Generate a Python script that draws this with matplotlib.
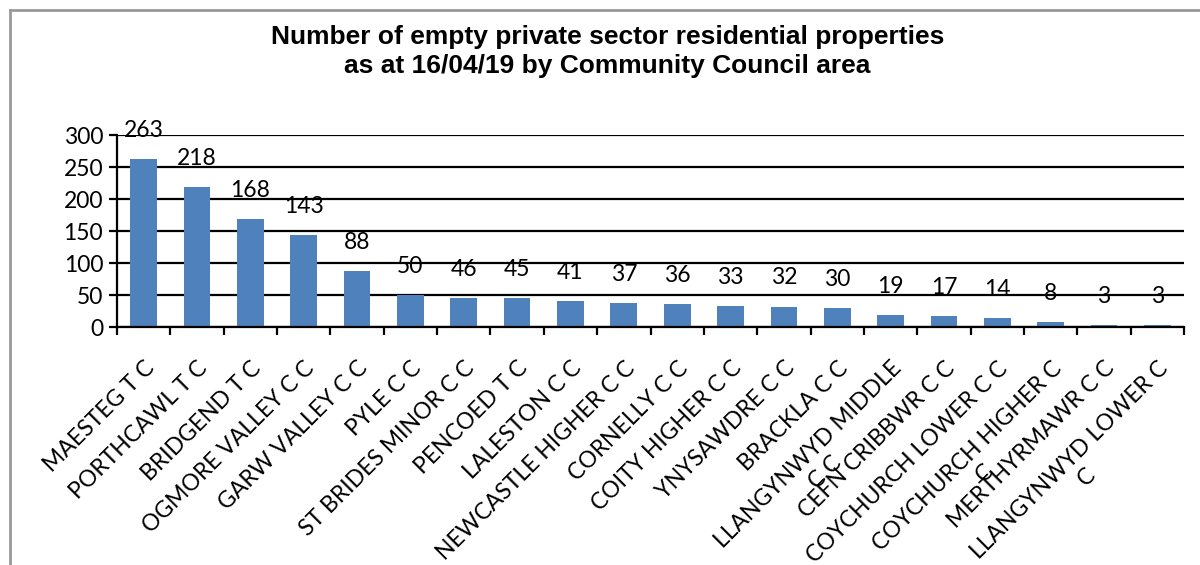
import numpy as np
import matplotlib
matplotlib.use('Agg')
import matplotlib.pyplot as plt
from matplotlib.lines import Line2D

# Datos del gráfico
areas = ['MAESTEG T C', 'PORTHCAWL T C', 'BRIDGEND T C', 'OGMORE VALLEY C C',
         'GARW VALLEY C C', 'PYLE C C', 'ST BRIDES MINOR C C', 'PENCOED T C',
         'LALESTON C C', 'NEWCASTLE HIGHER C C', 'CORNELLY C C', 'COITY HIGHER C C',
         'YNYSAWDRE C C', 'BRACKLA C C', 'LLANGYNWYD MIDDLE\nC C', 'CEFN CRIBBWR C C',
         'COYCHURCH LOWER C C', 'COYCHURCH HIGHER C\nC', 'MERTHYRMAWR C C',
         'LLANGYNWYD LOWER C\nC']
empty_props = [263, 218, 168, 143, 88, 50, 46, 45, 41, 37, 36, 33, 32, 30, 19, 17, 14, 8, 3, 3]
y_ticks = [0, 50, 100, 150, 200, 250, 300]

plt.rcParams['font.family'] = ['Lato', 'DejaVu Sans']

fig = plt.figure(figsize=(12, 5.65), dpi=100)
ax = fig.add_axes([117 / 1200, 1 - 327 / 565, (1184 - 117) / 1200, (327 - 135) / 565])

x = np.arange(len(areas))
bars = ax.bar(x, empty_props, width=0.5, color='#4F81BD', zorder=3)

# Etiquetas de datos
for xi, v in zip(x, empty_props):
    ax.annotate(str(v), (xi, v), xytext=(0, 13), textcoords='offset points',
                ha='center', va='bottom', fontsize=16.5, color='black', zorder=4)

ax.set_xlim(-0.5, len(areas) - 0.5)
ax.set_ylim(0, 300)
ax.set_yticks(y_ticks)
ax.yaxis.grid(True, color='black', linewidth=1.6, zorder=0)
ax.tick_params(axis='y', labelsize=16.5, length=6, width=1.6, direction='out', pad=4)

# Marcas del eje x entre categorías
ax.set_xticks(x)
ax.set_xticklabels(areas, rotation=45, ha='right', va='top', rotation_mode='anchor',
                   fontsize=16.5, multialignment='center')
ax.tick_params(axis='x', length=0, pad=22)
ax.set_xticks(np.arange(len(areas) + 1) - 0.5, minor=True)
ax.tick_params(axis='x', which='minor', length=6, width=1.6, direction='out')

for s in ['top', 'right']:
    ax.spines[s].set_visible(False)
ax.spines['left'].set_linewidth(1.6)
ax.spines['bottom'].set_linewidth(1.6)
ax.spines['bottom'].set_zorder(5)

# Título
fig.text(0.506, 1 - 25 / 565, 'Number of empty private sector residential properties\n'
         'as at 16/04/19 by Community Council area',
         ha='center', va='top', fontsize=19, fontweight='bold', linespacing=1.25,
         family=['Liberation Sans', 'DejaVu Sans'])

# Borde del gráfico
fig.add_artist(Line2D([10 / 1200, 10 / 1200], [0, 1 - 10 / 565], color='#999999',
                      linewidth=2, transform=fig.transFigure))
fig.add_artist(Line2D([10 / 1200, 1], [1 - 10 / 565, 1 - 10 / 565], color='#999999',
                      linewidth=2, transform=fig.transFigure))

fig.savefig('out.png', dpi=100)
